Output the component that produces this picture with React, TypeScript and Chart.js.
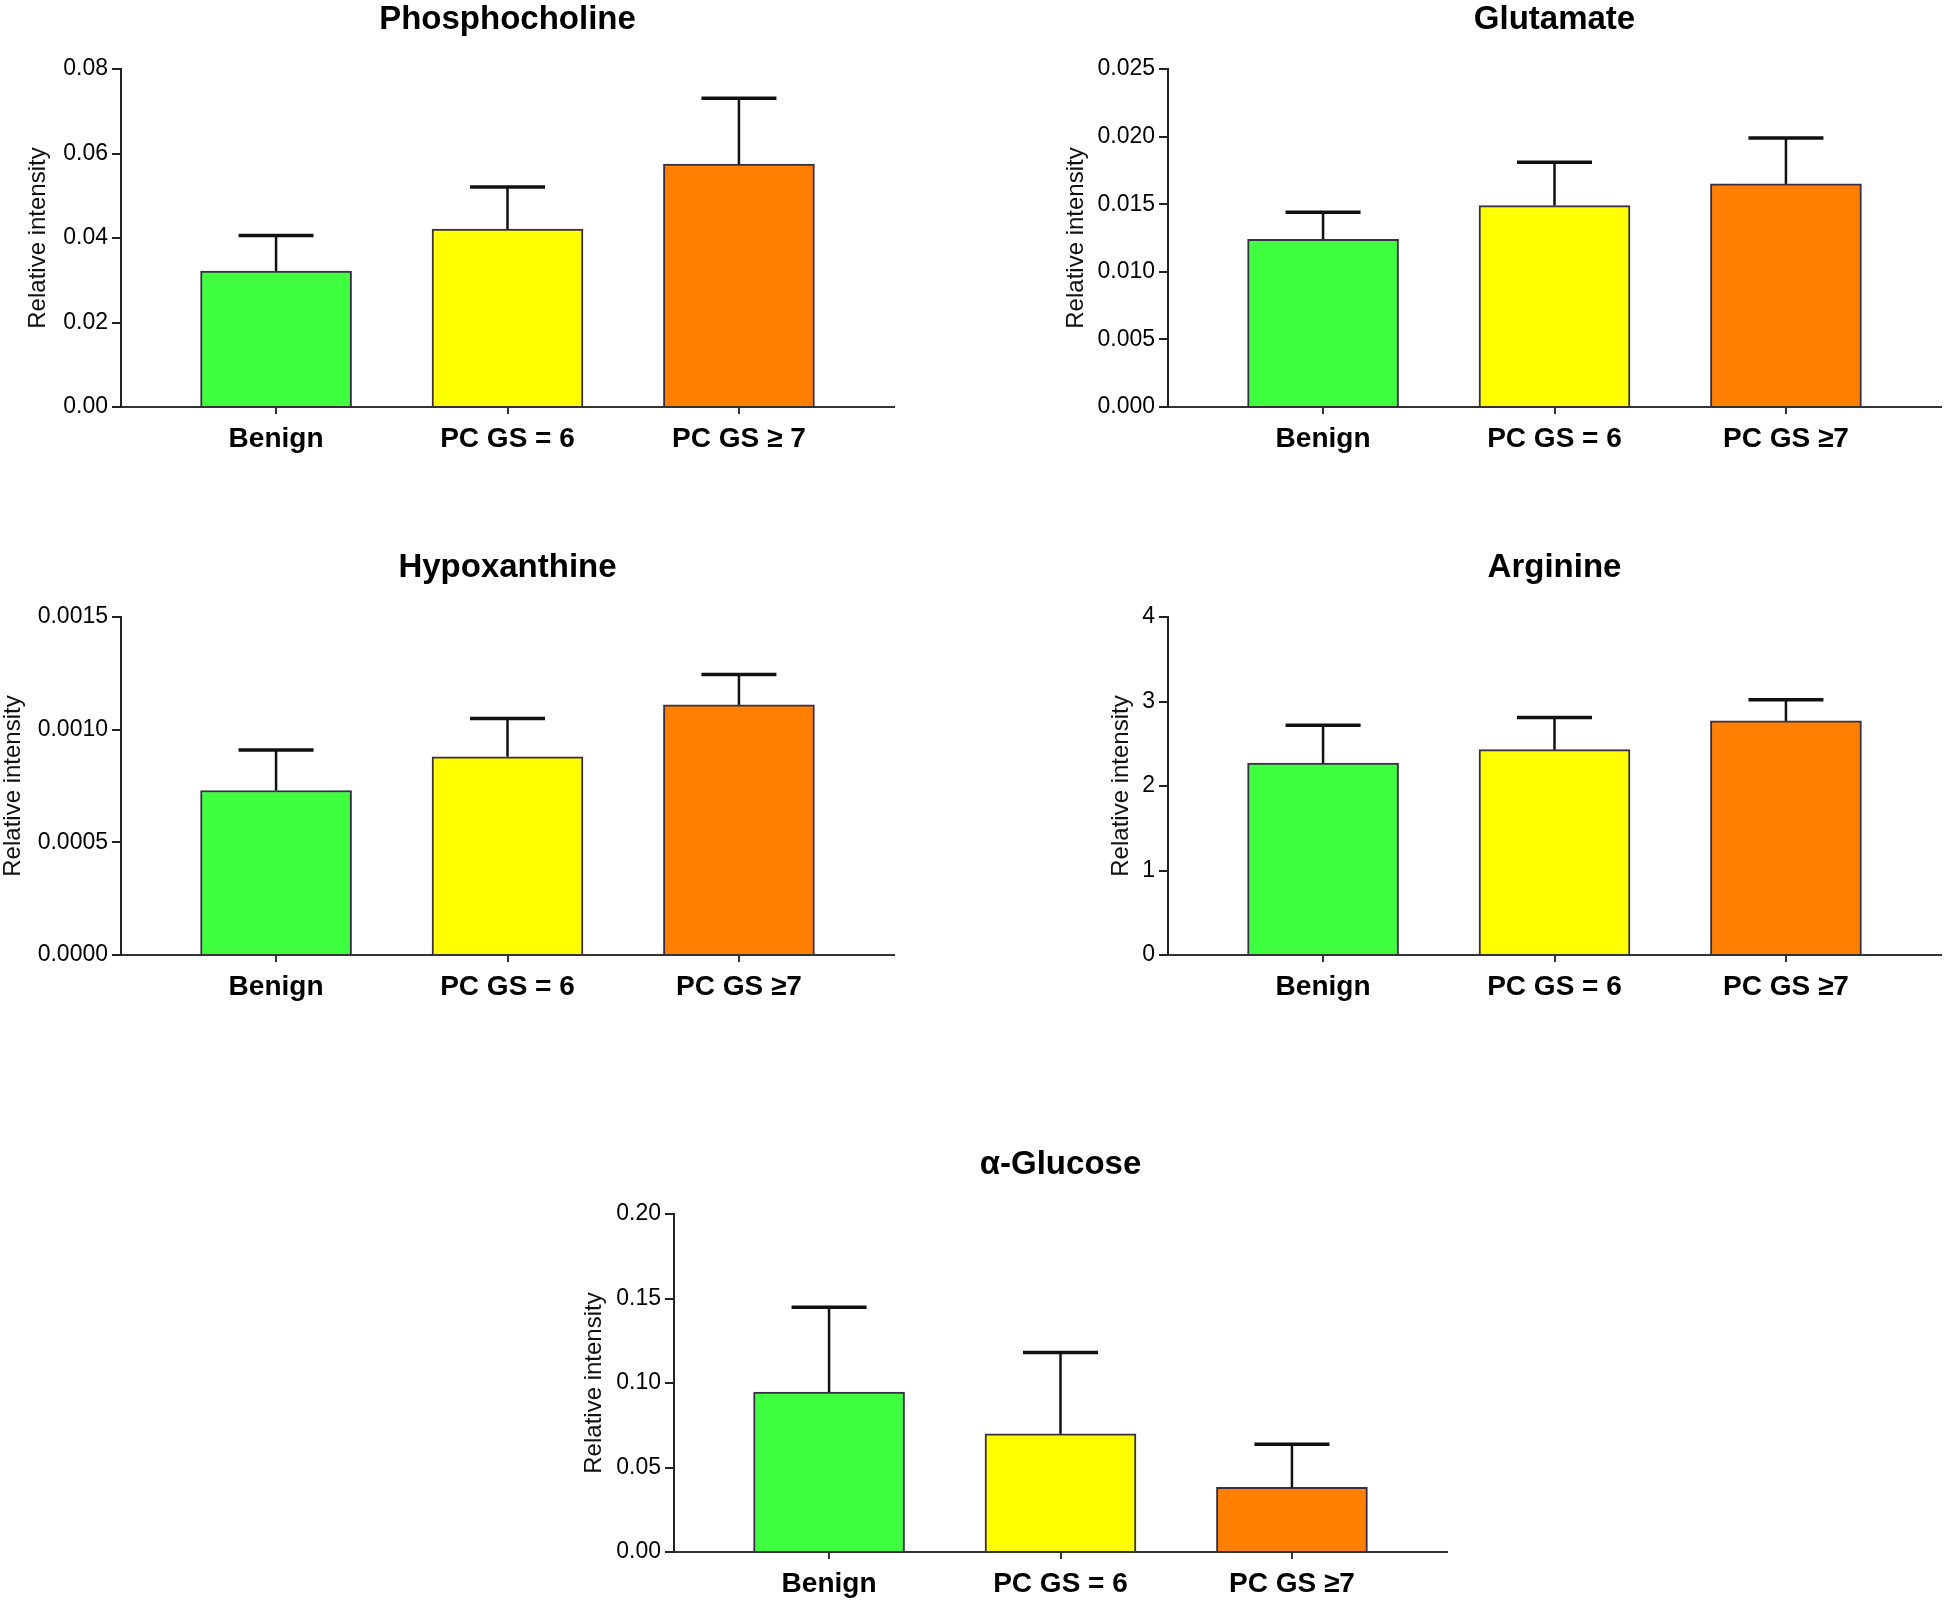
import React, { useEffect, useRef } from "react";
import { Chart, registerables } from "chart.js";

Chart.register(...registerables);

// ---- data ----
const categoriesA = ["Benign", "PC GS = 6", "PC GS \u2265 7"];
const categoriesB = ["Benign", "PC GS = 6", "PC GS \u22657"];

const phosphocholineMeans = [0.0322, 0.0421, 0.0575];
const phosphocholineErrors = [0.0084, 0.0100, 0.0156];
const phosphocholineTicks = ["0.00", "0.02", "0.04", "0.06", "0.08"];

const glutamateMeans = [0.0124, 0.0149, 0.0165];
const glutamateErrors = [0.0020, 0.0032, 0.0034];
const glutamateTicks = ["0.000", "0.005", "0.010", "0.015", "0.020", "0.025"];

const hypoxanthineMeans = [0.00073, 0.00088, 0.00111];
const hypoxanthineErrors = [0.00018, 0.00017, 0.000135];
const hypoxanthineTicks = ["0.0000", "0.0005", "0.0010", "0.0015"];

const arginineMeans = [2.27, 2.43, 2.77];
const arginineErrors = [0.45, 0.38, 0.25];
const arginineTicks = ["0", "1", "2", "3", "4"];

const glucoseMeans = [0.0946, 0.0699, 0.0382];
const glucoseErrors = [0.0502, 0.0481, 0.0255];
const glucoseTicks = ["0.00", "0.05", "0.10", "0.15", "0.20"];

const barColors = ["#40FF40", "#FFFF00", "#FF8000"];

const FONT = "'Liberation Sans', Arial, Helvetica, sans-serif";

type PanelDef = {
  title: string;
  categories: string[];
  means: number[];
  errors: number[];
  ticks: string[];
  yMax: number;
  yStep: number;
  left: number;
  top: number;
  yTitlePad: number;
};

const panels: PanelDef[] = [
  { title: "Phosphocholine", categories: categoriesA, means: phosphocholineMeans, errors: phosphocholineErrors, ticks: phosphocholineTicks, yMax: 0.08, yStep: 0.02, left: 0, top: 0, yTitlePad: 24 },
  { title: "Glutamate", categories: categoriesB, means: glutamateMeans, errors: glutamateErrors, ticks: glutamateTicks, yMax: 0.025, yStep: 0.005, left: 1047, top: 0, yTitlePad: 15 },
  { title: "Hypoxanthine", categories: categoriesB, means: hypoxanthineMeans, errors: hypoxanthineErrors, ticks: hypoxanthineTicks, yMax: 0.0015, yStep: 0.0005, left: 0, top: 548, yTitlePad: -1 },
  { title: "Arginine", categories: categoriesB, means: arginineMeans, errors: arginineErrors, ticks: arginineTicks, yMax: 4, yStep: 1, left: 1047, top: 548, yTitlePad: 60 },
  { title: "\u03B1-Glucose", categories: categoriesB, means: glucoseMeans, errors: glucoseErrors, ticks: glucoseTicks, yMax: 0.2, yStep: 0.05, left: 553, top: 1145, yTitlePad: 27 },
];

const CW = 899;
const CH = 470;

const errorBarPlugin = {
  id: "errorBars",
  afterDatasetsDraw(chart: any, _args: any, opts: any) {
    const errs: number[] = opts.errors || [];
    const meta = chart.getDatasetMeta(0);
    const ys = chart.scales.y;
    const ctx = chart.ctx;
    ctx.save();
    ctx.strokeStyle = "#111";
    ctx.lineCap = "butt";
    meta.data.forEach((bar: any, i: number) => {
      const d = chart.data.datasets[0].data[i];
      const v = d.y;
      const x = bar.x;
      const top = ys.getPixelForValue(v + errs[i]);
      const base = bar.y;
      ctx.lineWidth = 2.5;
      ctx.beginPath();
      ctx.moveTo(x, base);
      ctx.lineTo(x, top);
      ctx.stroke();
      ctx.lineWidth = 3.5;
      ctx.beginPath();
      ctx.moveTo(x - 37.5, top);
      ctx.lineTo(x + 37.5, top);
      ctx.stroke();
    });
    ctx.restore();
  },
};

function Panel({ def }: { def: PanelDef }) {
  const ref = useRef<HTMLCanvasElement | null>(null);
  useEffect(() => {
    if (!ref.current) return;
    const chart = new Chart(ref.current, {
      type: "bar",
      data: {
        datasets: [
          {
            data: def.means.map((m, i) => ({ x: i, y: m })) as any,
            backgroundColor: barColors,
            borderColor: "#3a2d45",
            borderWidth: 2,
            barThickness: 151,
          },
        ],
      },
      plugins: [errorBarPlugin as any],
      options: {
        animation: false,
        responsive: false,
        maintainAspectRatio: false,
        layout: { padding: { left: 0, right: 5, top: 0, bottom: 0 } },
        plugins: {
          legend: { display: false },
          tooltip: { enabled: false },
          title: {
            display: true,
            text: def.title,
            color: "#000",
            font: { family: FONT, size: 33, weight: "bold", lineHeight: 1.1 },
            padding: { top: 2, bottom: 30.7 },
            fullSize: false,
          },
          errorBars: { errors: def.errors },
        } as any,
        scales: {
          x: {
            type: "linear",
            min: -0.67,
            max: 2.67,
            offset: false,
            grid: {
              display: true,
              offset: false,
              drawOnChartArea: false,
              drawTicks: true,
              tickLength: 7,
              color: "#333",
              lineWidth: 2,
            },
            border: { display: true, color: "#333", width: 2 },
            ticks: {
              stepSize: 1,
              includeBounds: false,
              autoSkip: false,
              maxRotation: 0,
              padding: 8,
              color: "#000",
              font: { family: FONT, size: 28, weight: "bold" },
              callback: (v: any) => {
                const idx = Math.round(Number(v));
                return Math.abs(Number(v) - idx) < 1e-6 && def.categories[idx] ? def.categories[idx] : "";
              },
            },
            afterFit: (s: any) => {
              s.height = 63;
            },
          } as any,
          y: {
            min: 0,
            max: def.yMax,
            grid: {
              display: true,
              drawOnChartArea: false,
              drawTicks: true,
              tickLength: 9,
              color: "#222",
              lineWidth: 2,
            },
            border: { display: true, color: "#222", width: 2 },
            ticks: {
              stepSize: def.yStep,
              padding: 4,
              color: "#000",
              font: { family: FONT, size: 23 },
              callback: (_v: any, i: number) => def.ticks[i] ?? "",
            },
            title: {
              display: true,
              text: "Relative intensity",
              color: "#111",
              font: { family: FONT, size: 24 },
              padding: { top: def.yTitlePad, bottom: 0 },
            },
            afterFit: (s: any) => {
              s.width = 121;
            },
          } as any,
        },
      },
    });
    return () => chart.destroy();
  }, [def]);
  return (
    <canvas
      ref={ref}
      width={CW}
      height={CH}
      style={{ position: "absolute", left: def.left, top: def.top, width: CW, height: CH }}
    />
  );
}

export default function App() {
  return (
    <div
      style={{
        position: "absolute",
        left: 0,
        top: 0,
        width: 1946,
        height: 1601,
        background: "#fff",
        overflow: "hidden",
      }}
    >
      {panels.map((p) => (
        <Panel key={p.title} def={p} />
      ))}
    </div>
  );
}
